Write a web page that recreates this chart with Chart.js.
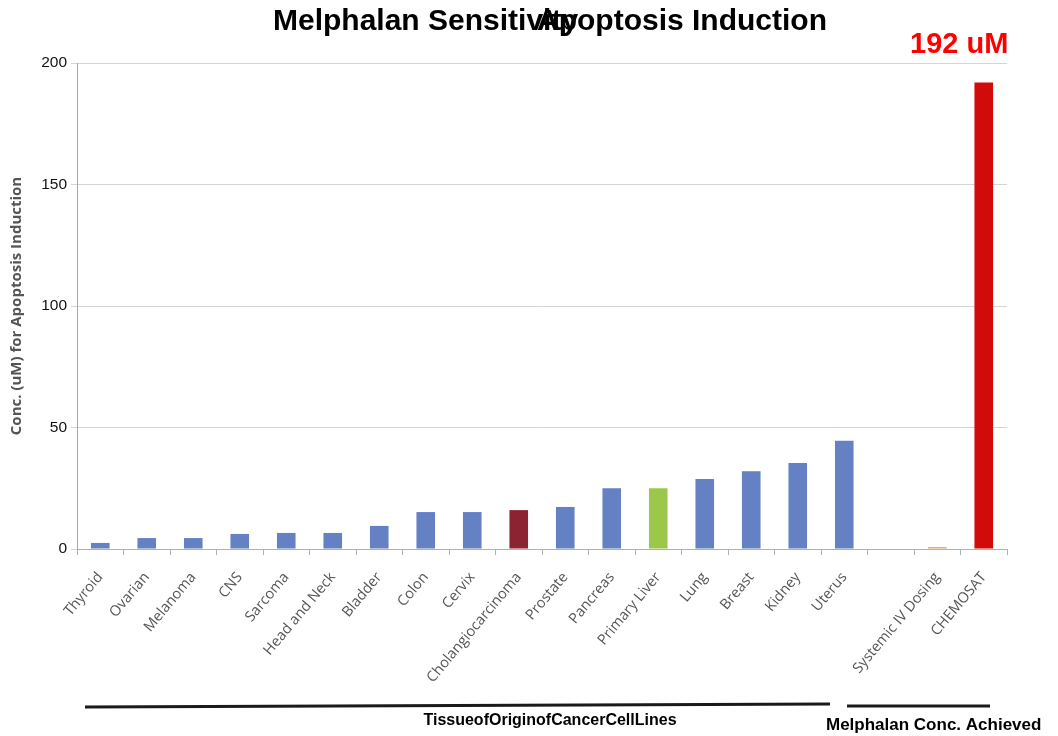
<!DOCTYPE html>
<html>
<head>
<meta charset="utf-8">
<script src="https://cdn.jsdelivr.net/npm/chart.js@4.4.0/dist/chart.umd.min.js"></script>
<style>
  html, body { margin:0; padding:0; background:#fff; }
  #wrap { width:1058px; height:736px; position:relative; }
</style>
</head>
<body>
<div id="wrap"><canvas id="chart" width="1058" height="736"></canvas></div>
<script>
// ---- data ----
const categories = [
  'Thyroid', 'Ovarian', 'Melanoma', 'CNS', 'Sarcoma', 'Head and Neck', 'Bladder',
  'Colon', 'Cervix', 'Cholangiocarcinoma', 'Prostate', 'Pancreas', 'Primary Liver',
  'Lung', 'Breast', 'Kidney', 'Uterus', '', 'Systemic IV Dosing', 'CHEMOSAT'
];
const concValues = [
  2.5, 4.5, 4.5, 6.2, 6.6, 6.6, 9.5,
  15.2, 15.2, 16, 17.3, 25, 25,
  28.8, 32, 35.4, 44.5, null, 0.8, 192
];
const barColors = [
  '#6381c3', '#6381c3', '#6381c3', '#6381c3', '#6381c3', '#6381c3', '#6381c3',
  '#6381c3', '#6381c3', '#8c2331', '#6381c3', '#6381c3', '#9bc84b',
  '#6381c3', '#6381c3', '#6381c3', '#6381c3', '#6381c3', '#e0a868', '#d10a0a'
];
const yTicks = [0, 50, 100, 150, 200];

// text that sits outside the plot (title, callout, group brackets)
const overlayText = {
  id: 'overlayText',
  afterDraw(chart) {
    const ctx = chart.ctx;
    ctx.save();
    ctx.fillStyle = '#000';
    ctx.textBaseline = 'middle';
    ctx.textAlign = 'left';
    // the title in the source is two overlapping strings
    ctx.font = 'bold 30px "Liberation Sans", Arial, sans-serif';
    ctx.fillText('Melphalan Sensitivity', 273, 22);
    ctx.fillText('Apoptosis Induction', 537, 22);

    ctx.fillStyle = '#ff0000';
    ctx.font = 'bold 29px "Liberation Sans", Arial, sans-serif';
    ctx.fillText('192 uM', 910, 45);

    // group brackets under the labels
    ctx.strokeStyle = '#1a1a1a';
    ctx.lineWidth = 3;
    ctx.beginPath();
    ctx.moveTo(85, 707); ctx.lineTo(830, 704);
    ctx.moveTo(847, 706); ctx.lineTo(990, 706);
    ctx.stroke();

    ctx.fillStyle = '#000';
    ctx.font = 'bold 16px "Liberation Sans", Arial, sans-serif';
    ctx.textAlign = 'center';
    ctx.fillText('TissueofOriginofCancerCellLines', 550, 721);
    ctx.textAlign = 'left';
    ctx.font = 'bold 17px "Liberation Sans", Arial, sans-serif';
    ctx.fillText('Melphalan Conc. Achieved', 826, 725);
    ctx.restore();
  }
};

new Chart(document.getElementById('chart'), {
  type: 'bar',
  data: {
    labels: categories,
    datasets: [{
      data: concValues,
      backgroundColor: barColors,
      barPercentage: 0.4,
      categoryPercentage: 1.0
    }]
  },
  options: {
    responsive: false,
    animation: false,
    layout: { padding: { top: 63, right: 51, left: 0, bottom: 0 } },
    plugins: {
      legend: { display: false },
      tooltip: { enabled: false }
    },
    scales: {
      x: {
        grid: { drawOnChartArea: false, color: '#b0b0b0', tickLength: 6 },
        border: { color: '#b0b0b0' },
        ticks: {
          color: '#555',
          font: { family: '"Open Sans", sans-serif', size: 14.5 },
          minRotation: 50,
          maxRotation: 50,
          autoSkip: false,
          padding: 14
        },
        afterFit: s => { s.height = 187; }
      },
      y: {
        min: 0,
        max: 200,
        afterBuildTicks: s => { s.ticks = yTicks.map(v => ({ value: v })); },
        grid: { color: '#d4d4d4', tickLength: 6 },
        border: { color: '#a8a8a8' },
        ticks: {
          color: '#111',
          font: { family: '"Liberation Sans", Arial, sans-serif', size: 15.5 },
          padding: 4
        },
        title: {
          display: true,
          text: 'Conc. (uM) for Apoptosis Induction',
          color: '#555',
          font: { family: '"Open Sans", sans-serif', size: 15, weight: 'bold' },
          padding: { top: 8, bottom: 0 }
        },
        afterFit: s => { s.width = 77; }
      }
    }
  },
  plugins: [overlayText]
});
</script>
</body>
</html>
